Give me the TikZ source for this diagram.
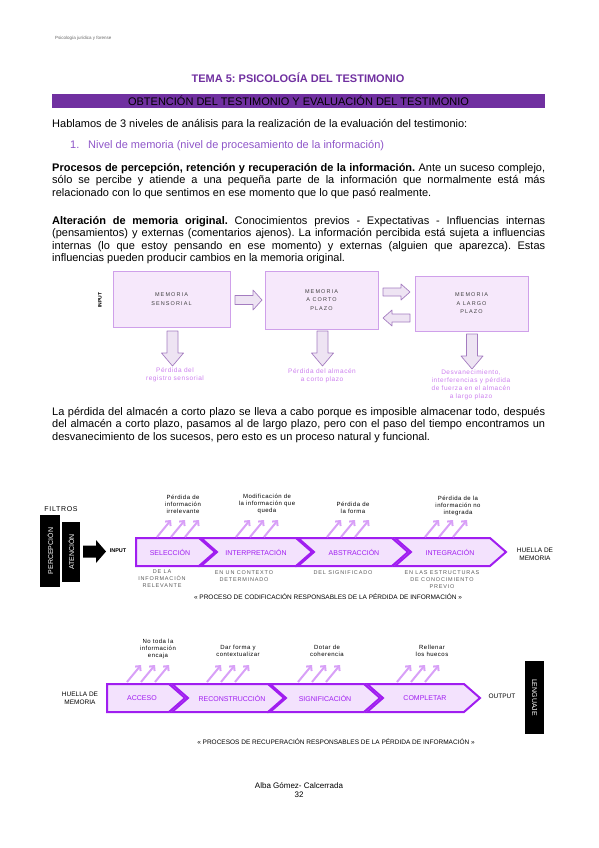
\documentclass[tikz,border=0pt]{standalone}
\usepackage{fontspec}
\setmainfont{Liberation Sans}
\usetikzlibrary{arrows.meta}
\definecolor{temaMorado}{HTML}{7030A0}
\definecolor{nivelMorado}{HTML}{8E55C8}
\definecolor{memFondo}{HTML}{F6E8FB}
\definecolor{memBorde}{HTML}{CFA0EA}
\definecolor{flechaFondo}{HTML}{EEE4F3}
\definecolor{flechaBorde}{HTML}{A47CC0}
\definecolor{perdidaColor}{HTML}{CC7FEE}
\definecolor{chevBorde}{HTML}{A01EF0}
\definecolor{chevFondo}{HTML}{F3E2FD}
\definecolor{subeColor}{HTML}{D8A0F7}
\frenchspacing
\begin{document}
\begin{tikzpicture}[x=1pt, y=-1pt,
    txtCuerpo/.style={anchor=base west, inner sep=0pt, text width=493pt, align=justify, font=\fontsize{11}{12.65}\selectfont},
    memCaja/.style={draw=memBorde, fill=memFondo, line width=0.9pt, inner sep=0pt, align=center, text=black!75, font=\fontsize{5.5}{8.5}\selectfont\addfontfeatures{LetterSpace=20}},
    flechaBloque/.style={draw=flechaBorde, fill=flechaFondo, line width=0.7pt, line join=round},
    perdidaTxt/.style={align=center, text=perdidaColor, inner sep=0pt, font=\fontsize{6.5}{8.2}\selectfont\addfontfeatures{LetterSpace=8}},
    chevron/.style={draw=chevBorde, fill=chevFondo, line width=2pt, line join=miter},
    chevTxt/.style={text=chevBorde, inner sep=0pt, font=\fontsize{7}{8}\selectfont},
    notaArriba/.style={align=center, inner sep=0pt, font=\fontsize{6}{7}\selectfont\addfontfeatures{LetterSpace=8}},
    notaAbajo/.style={align=center, inner sep=0pt, text=black!65, font=\fontsize{5.5}{7}\selectfont\addfontfeatures{LetterSpace=15}},
    flechaSube/.style={draw=subeColor, line width=2pt, -{Straight Barb[length=3.5pt,width=7pt]}},
    cajaNegra/.style={fill=black, text=white, inner sep=0pt, font=\fontsize{7}{8}\selectfont},
    rotulo/.style={inner sep=0pt, font=\fontsize{6.5}{8}\selectfont},
]
\useasboundingbox (0,0) rectangle (599,848);
% cabecera y titulo
\node[anchor=west, inner sep=0pt, text=black!60, font=\fontsize{4.5}{5}\selectfont] (cabecera) at (55,38) {Psicología jurídica y forense};
\node[text=temaMorado, font=\bfseries\fontsize{11}{13}\selectfont] (tema) at (298,78) {TEMA 5: PSICOLOGÍA DEL TESTIMONIO};
\node[fill=temaMorado, minimum width=493pt, minimum height=14pt, inner sep=0pt, font=\fontsize{11}{13}\selectfont] (barra) at (298.5,101) {OBTENCIÓN DEL TESTIMONIO Y EVALUACIÓN DEL TESTIMONIO};
% texto
\node[anchor=base west, inner sep=0pt, font=\fontsize{11}{13}\selectfont] (hablamos) at (52,128) {Hablamos de 3 niveles de análisis para la realización de la evaluación del testimonio:};
\node[anchor=base west, inner sep=0pt, text=nivelMorado, font=\fontsize{11}{13}\selectfont] (num1) at (70,149) {1.};
\node[anchor=base west, inner sep=0pt, text=nivelMorado, font=\fontsize{11}{13}\selectfont] (nivel) at (88,149) {Nivel de memoria (nivel de procesamiento de la información)};
\node[txtCuerpo] (procesos) at (52,171) {\textbf{Procesos de percepción, retención y recuperación de la información.} Ante un suceso complejo,\linebreak sólo se percibe y atiende a una pequeña parte de la información que normalmente está más\linebreak relacionado con lo que sentimos en ese momento que lo que pasó realmente.};
\node[txtCuerpo] (alteracion) at (52,224) {\textbf{Alteración de memoria original.} Conocimientos previos - Expectativas - Influencias internas\linebreak (pensamientos) y externas (comentarios ajenos). La información percibida está sujeta a influencias\linebreak internas (lo que estoy pensando en ese momento) y externas (alguien que aparezca). Estas\linebreak influencias pueden producir cambios en la memoria original.};
% almacenes de memoria
\node[rotate=90, inner sep=0pt, font=\bfseries\fontsize{5}{6}\selectfont] (input1) at (100,300) {INPUT};
\node[memCaja, minimum width=117pt, minimum height=56pt] (sensorial) at (171.5,299) {MEMORIA\\SENSORIAL};
\node[memCaja, minimum width=113pt, minimum height=58pt] (corto) at (321.5,300) {MEMORIA\\A CORTO\\PLAZO};
\node[memCaja, minimum width=113pt, minimum height=55pt] (largo) at (471.5,303.5) {MEMORIA\\A LARGO\\PLAZO};
\draw[flechaBloque] (235,295.5) -- ++(18,0) -- ++(0,-5.5) -- ++(9,10) -- ++(-9,10) -- ++(0,-5.5) -- ++(-18,0) -- cycle;
\draw[flechaBloque] (383,288) -- ++(18,0) -- ++(0,-4) -- ++(9,8) -- ++(-9,8) -- ++(0,-4) -- ++(-18,0) -- cycle;
\draw[flechaBloque] (410,314) -- ++(-18,0) -- ++(0,-4) -- ++(-9,8) -- ++(9,8) -- ++(0,-4) -- ++(18,0) -- cycle;
\foreach \cx/\ty in {172.5/331, 322.5/331, 472/334}
  \draw[flechaBloque] (\cx-5.5,\ty) -- ++(11,0) -- ++(0,22) -- ++(5.5,0) -- ++(-11,13) -- ++(-11,-13) -- ++(5.5,0) -- cycle;
\node[perdidaTxt] (perdSens) at (175,375) {Pérdida del\\registro sensorial};
\node[perdidaTxt] (perdCorto) at (322,376) {Pérdida del almacén\\a corto plazo};
\node[perdidaTxt] (perdLargo) at (471,385) {Desvanecimiento,\\interferencias y pérdida\\de fuerza en el almacén\\a largo plazo};
\node[txtCuerpo] (perdida) at (52,415) {La pérdida del almacén a corto plazo se lleva a cabo porque es imposible almacenar todo, después\linebreak del almacén a corto plazo, pasamos al de largo plazo, pero con el paso del tiempo encontramos un\linebreak desvanecimiento de los sucesos, pero esto es un proceso natural y funcional.};
% codificacion
\node[inner sep=0pt, font=\fontsize{7}{8}\selectfont\addfontfeatures{LetterSpace=10}] (filtros) at (61,509) {FILTROS};
\node[cajaNegra, rotate=90, minimum width=72pt, minimum height=20pt] (percepcion) at (50,551) {PERCEPCIÓN};
\node[cajaNegra, rotate=90, minimum width=60pt, minimum height=18pt] (atencion) at (71,552) {ATENCIÓN};
\fill[black] (83,545.5) -- (96,545.5) -- (96,540) -- (106,551.5) -- (96,563) -- (96,557.5) -- (83,557.5) -- cycle;
\node[inner sep=0pt, font=\bfseries\fontsize{5.5}{6}\selectfont] (input2) at (118,551) {INPUT};
\draw[chevron] (136,538) -- (199,538) -- (215,552) -- (199,566) -- (136,566) -- cycle;
\draw[chevron] (201,538) -- (296,538) -- (312,552) -- (296,566) -- (201,566) -- (217,552) -- cycle;
\draw[chevron] (298,538) -- (392,538) -- (408,552) -- (392,566) -- (298,566) -- (314,552) -- cycle;
\draw[chevron] (395,538) -- (490,538) -- (506,552) -- (490,566) -- (395,566) -- (411,552) -- cycle;
\node[chevTxt] (seleccion) at (170,552) {SELECCIÓN};
\node[chevTxt] (interpret) at (256,552) {INTERPRETACIÓN};
\node[chevTxt] (abstraccion) at (354,552) {ABSTRACCIÓN};
\node[chevTxt] (integracion) at (450,552) {INTEGRACIÓN};
\node[align=center, inner sep=0pt, font=\fontsize{6.5}{8}\selectfont] (huella1) at (535,554) {HUELLA DE\\MEMORIA};
\foreach \sx in {157,171,185, 236,250,264, 327,341,355, 425,439,453}
  \draw[flechaSube] (\sx,537) -- ++(14,-17);
\node[notaArriba] (irrelev) at (183,504) {Pérdida de\\información\\irrelevante};
\node[notaArriba] (modif) at (267,504) {Modificación de\\la información que\\queda};
\node[notaArriba] (forma) at (353,507.5) {Pérdida de\\la forma};
\node[notaArriba] (noInteg) at (458,506) {Pérdida de la\\información no\\integrada};
\node[notaAbajo] (deLa) at (162,579) {DE LA\\INFORMACIÓN\\RELEVANTE};
\node[notaAbajo] (contexto) at (244,576) {EN UN CONTEXTO\\DETERMINADO};
\node[notaAbajo] (signif) at (343,573) {DEL SIGNIFICADO};
\node[notaAbajo] (estruct) at (442,580) {EN LAS ESTRUCTURAS\\DE CONOCIMIENTO\\PREVIO};
\node[rotulo] (codif) at (328,597) {« PROCESO DE CODIFICACIÓN RESPONSABLES DE LA PÉRDIDA DE INFORMACIÓN »};
% recuperacion
\node[align=center, inner sep=0pt, font=\fontsize{6.5}{8}\selectfont] (huella2) at (80,698) {HUELLA DE\\MEMORIA};
\draw[chevron] (107,684) -- (169,684) -- (185,698) -- (169,712) -- (107,712) -- cycle;
\draw[chevron] (172,684) -- (268,684) -- (284,698) -- (268,712) -- (172,712) -- (188,698) -- cycle;
\draw[chevron] (270,684) -- (364,684) -- (380,698) -- (364,712) -- (270,712) -- (286,698) -- cycle;
\draw[chevron] (367,684) -- (464,684) -- (480,698) -- (464,712) -- (367,712) -- (383,698) -- cycle;
\node[chevTxt] (acceso) at (142,698) {ACCESO};
\node[chevTxt] (reconstr) at (232,698) {RECONSTRUCCIÓN};
\node[chevTxt] (significa) at (325,698) {SIGNIFICACIÓN};
\node[chevTxt] (completar) at (425,698) {COMPLETAR};
\foreach \sx in {127,141,155, 207,221,235, 298,312,326, 397,411,425}
  \draw[flechaSube] (\sx,682) -- ++(14,-17);
\node[notaArriba] (noToda) at (158,649) {No toda la\\información\\encaja};
\node[notaArriba] (darForma) at (238,650.5) {Dar forma y\\contextualizar};
\node[notaArriba] (dotar) at (327,650.5) {Dotar de\\coherencia};
\node[notaArriba] (rellenar) at (432,650.5) {Rellenar\\los huecos};
\node[inner sep=0pt, font=\fontsize{6.5}{8}\selectfont] (output) at (502,696) {OUTPUT};
\node[cajaNegra, rotate=-90, minimum width=73pt, minimum height=19pt] (lenguaje) at (534.5,697.5) {LENGUAJE};
\node[rotulo] (recup) at (336,742) {« PROCESOS DE RECUPERACIÓN RESPONSABLES DE LA PÉRDIDA DE INFORMACIÓN »};
% pie
\node[inner sep=0pt, font=\fontsize{8}{9}\selectfont] (autora) at (299,786) {Alba Gómez- Calcerrada};
\node[inner sep=0pt, font=\fontsize{8}{9}\selectfont] (pagina) at (299,795) {32};
\end{tikzpicture}
\end{document}
